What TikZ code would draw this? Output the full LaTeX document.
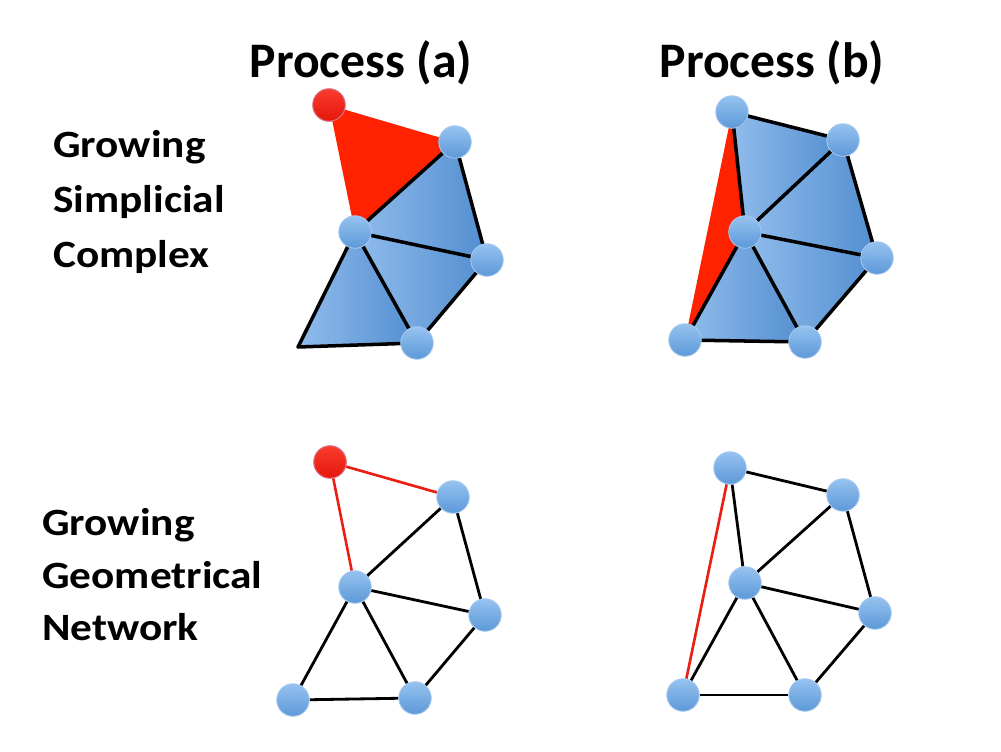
\documentclass[tikz,border=0pt]{standalone}
\usepackage{fontspec}
\setmainfont{Carlito}
\usetikzlibrary{backgrounds}
\definecolor{triL}{RGB}{145,188,236}
\definecolor{triD}{RGB}{82,142,208}
\definecolor{nodeL}{RGB}{150,195,240}
\definecolor{nodeD}{RGB}{92,152,216}
\definecolor{nodeE}{RGB}{165,200,238}
\definecolor{redF}{RGB}{255,34,0}
\definecolor{redL}{RGB}{250,60,45}
\definecolor{redD}{RGB}{228,22,10}
\definecolor{redE}{RGB}{215,110,130}
\definecolor{redE2}{RGB}{235,30,20}
\newcommand{\lblstretch}[1]{\scalebox{1.12}[1]{#1}}
\begin{document}
\begin{tikzpicture}[x=0.02cm,y=-0.02cm,
  bnode/.style={circle,minimum size=0.65cm,inner sep=0pt,top color=nodeL,bottom color=nodeD,draw=nodeE,line width=0.5pt},
  rnode/.style={circle,minimum size=0.65cm,inner sep=0pt,top color=redL,bottom color=redD,draw=redE,line width=0.6pt},
  tri/.style={left color=triL,right color=triD},
  redtri/.style={fill=redF},
  sedge/.style={draw=black,line width=2pt,line join=round,line cap=round},
  nedge/.style={draw=black,line width=1.6pt},
  redge/.style={draw=redE2,line width=1.5pt},
  title/.style={font=\bfseries\fontsize{28.3}{34}\selectfont,inner sep=0pt},
  lbl/.style={font=\bfseries\fontsize{22}{26}\selectfont,inner sep=0pt,anchor=base west}]
\useasboundingbox (0,0) rectangle (1001,751);
\begin{pgfonlayer}{background}
\fill[white] (0,0) rectangle (1001,751);
\end{pgfonlayer}

% titles
\node[title,anchor=base] (ta) at (361,77) {Process (a)};
\node[title,anchor=base] (tb) at (772,77) {Process (b)};

% labels
\node[lbl] (l1) at (53,157) {\lblstretch{Growing}};
\node[lbl] (l2) at (53,212) {\lblstretch{Simplicial}};
\node[lbl] (l3) at (53,267) {\lblstretch{Complex}};
\node[lbl] (l4) at (42,535) {\lblstretch{Growing}};
\node[lbl] (l5) at (42,588) {\lblstretch{Geometrical}};
\node[lbl] (l6) at (42,640) {\lblstretch{Network}};

% ---------- Simplicial complex (a) ----------
\node[rnode] (a1) at (329,105) {};
\node[bnode] (a2) at (455,142) {};
\node[bnode] (a3) at (355,232) {};
\node[bnode] (a4) at (487,260) {};
\node[bnode] (a5) at (417,343) {};
\coordinate (a6) at (298,347);
\begin{pgfonlayer}{background}
\fill[redtri] (a1.center) -- (a2.center) -- (a3.center) -- cycle;
\shade[tri] (a2.center) -- (a3.center) -- (a4.center) -- cycle;
\shade[tri] (a3.center) -- (a4.center) -- (a5.center) -- cycle;
\shade[tri] (a3.center) -- (a5.center) -- (a6) -- cycle;
\draw[sedge] (a2.center) -- (a3.center);
\draw[sedge] (a2.center) -- (a4.center);
\draw[sedge] (a3.center) -- (a4.center);
\draw[sedge] (a4.center) -- (a5.center);
\draw[sedge] (a3.center) -- (a5.center);
\draw[sedge] (a3.center) -- (a6);
\draw[sedge] (a6) -- (a5.center);
\end{pgfonlayer}

% ---------- Simplicial complex (b) ----------
\node[bnode] (b1) at (732,112) {};
\node[bnode] (b2) at (843,140) {};
\node[bnode] (b3) at (745,232) {};
\node[bnode] (b4) at (877,258) {};
\node[bnode] (b5) at (685,340) {};
\node[bnode] (b6) at (805,342) {};
\begin{pgfonlayer}{background}
\fill[redtri] (b1.center) -- (b3.center) -- (b5.center) -- cycle;
\shade[tri] (b1.center) -- (b2.center) -- (b3.center) -- cycle;
\shade[tri] (b2.center) -- (b4.center) -- (b3.center) -- cycle;
\shade[tri] (b3.center) -- (b4.center) -- (b6.center) -- cycle;
\shade[tri] (b3.center) -- (b6.center) -- (b5.center) -- cycle;
\draw[sedge] (b1.center) -- (b2.center);
\draw[sedge] (b1.center) -- (b3.center);
\draw[sedge] (b2.center) -- (b3.center);
\draw[sedge] (b2.center) -- (b4.center);
\draw[sedge] (b3.center) -- (b4.center);
\draw[sedge] (b3.center) -- (b5.center);
\draw[sedge] (b3.center) -- (b6.center);
\draw[sedge] (b4.center) -- (b6.center);
\draw[sedge] (b5.center) -- (b6.center);
\end{pgfonlayer}

% ---------- Network (a) ----------
\node[rnode] (c1) at (330,462) {};
\node[bnode] (c2) at (453,497) {};
\node[bnode] (c3) at (355,587) {};
\node[bnode] (c4) at (485,615) {};
\node[bnode] (c5) at (293,700) {};
\node[bnode] (c6) at (415,698) {};
\begin{pgfonlayer}{background}
\draw[redge] (c1) -- (c2);
\draw[redge] (c1) -- (c3);
\draw[nedge] (c2) -- (c3);
\draw[nedge] (c2) -- (c4);
\draw[nedge] (c3) -- (c4);
\draw[nedge] (c3) -- (c5);
\draw[nedge] (c3) -- (c6);
\draw[nedge] (c4) -- (c6);
\draw[nedge] (c5) -- (c6);
\end{pgfonlayer}

% ---------- Network (b) ----------
\node[bnode] (d1) at (730,468) {};
\node[bnode] (d2) at (843,495) {};
\node[bnode] (d3) at (745,583) {};
\node[bnode] (d4) at (875,613) {};
\node[bnode] (d5) at (683,695) {};
\node[bnode] (d6) at (805,695) {};
\begin{pgfonlayer}{background}
\draw[nedge] (d1) -- (d2);
\draw[nedge] (d1) -- (d3);
\draw[redge] (d1) -- (d5);
\draw[nedge] (d2) -- (d3);
\draw[nedge] (d2) -- (d4);
\draw[nedge] (d3) -- (d4);
\draw[nedge] (d3) -- (d5);
\draw[nedge] (d3) -- (d6);
\draw[nedge] (d4) -- (d6);
\draw[nedge] (d5) -- (d6);
\end{pgfonlayer}
\end{tikzpicture}
\end{document}
